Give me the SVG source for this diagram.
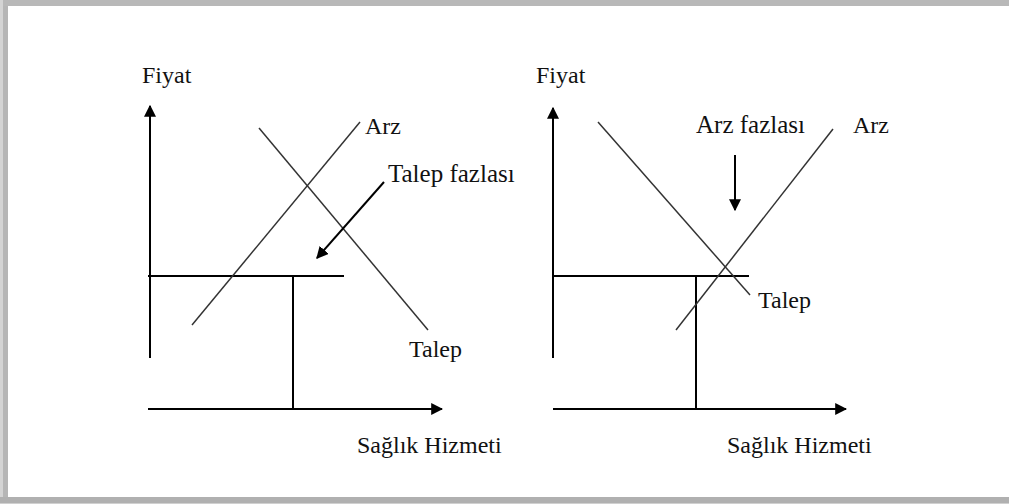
<svg xmlns="http://www.w3.org/2000/svg" width="1009" height="504" viewBox="0 0 1009 504">
<defs>
<style>
.ax{stroke:#000;stroke-width:2;fill:none}
.ln{stroke:#333;stroke-width:1.5;fill:none}
.t{font-family:"Liberation Serif","Times New Roman",serif;font-size:24px;fill:#111}
.f{font-size:25px}
</style>
<marker id="ah" viewBox="0 0 10 10" refX="9" refY="5" markerWidth="6" markerHeight="6" markerUnits="strokeWidth" orient="auto">
<path d="M0,0 L10,5 L0,10 Z" fill="#000"/>
</marker>
</defs>
<rect width="1009" height="504" fill="#fff"/>
<g id="frame">
<rect x="0" y="0" width="1009" height="6" fill="#b8b8b8"/>
<rect x="0" y="0" width="3" height="504" fill="#d4d4d4"/>
<rect x="3" y="6" width="5" height="491" fill="#b6b6b6"/>
<rect x="0" y="497" width="1009" height="6" fill="#b0b0b0"/>
<rect x="0" y="503" width="1009" height="1" fill="#d0d0d0"/>
</g>
<g id="connectors">
<line class="ax" x1="150" y1="358" x2="150" y2="106" marker-end="url(#ah)"/>
<line class="ax" x1="148" y1="409" x2="442" y2="409" marker-end="url(#ah)"/>
<line class="ax" x1="148" y1="276" x2="344" y2="276"/>
<line class="ax" x1="293" y1="276" x2="293" y2="409"/>
<line class="ln" x1="192" y1="325" x2="360" y2="122"/>
<line class="ln" x1="259" y1="128" x2="428" y2="330"/>
<line class="ax" x1="384" y1="182" x2="317" y2="258" marker-end="url(#ah)"/>
<line class="ax" x1="553" y1="358" x2="553" y2="108" marker-end="url(#ah)"/>
<line class="ax" x1="553" y1="409" x2="846" y2="409" marker-end="url(#ah)"/>
<line class="ax" x1="553" y1="276" x2="749" y2="276"/>
<line class="ax" x1="696" y1="276" x2="696" y2="409"/>
<line class="ln" x1="598" y1="122" x2="750" y2="295"/>
<line class="ln" x1="676" y1="330" x2="833" y2="129"/>
<line class="ax" x1="735" y1="155" x2="735" y2="210" marker-end="url(#ah)"/>
</g>
<g id="left-labels">
<text class="t" x="142" y="83">Fiyat</text>
<text class="t" x="365" y="134">Arz</text>
<text class="t f" x="388" y="182">Talep fazlası</text>
<text class="t" x="409" y="357">Talep</text>
<text class="t" x="357" y="453">Sağlık Hizmeti</text>
</g>
<g id="right-labels">
<text class="t" x="536" y="83">Fiyat</text>
<text class="t f" x="696" y="133">Arz fazlası</text>
<text class="t" x="853" y="133">Arz</text>
<text class="t" x="758" y="308">Talep</text>
<text class="t" x="727" y="453">Sağlık Hizmeti</text>
</g>
</svg>
